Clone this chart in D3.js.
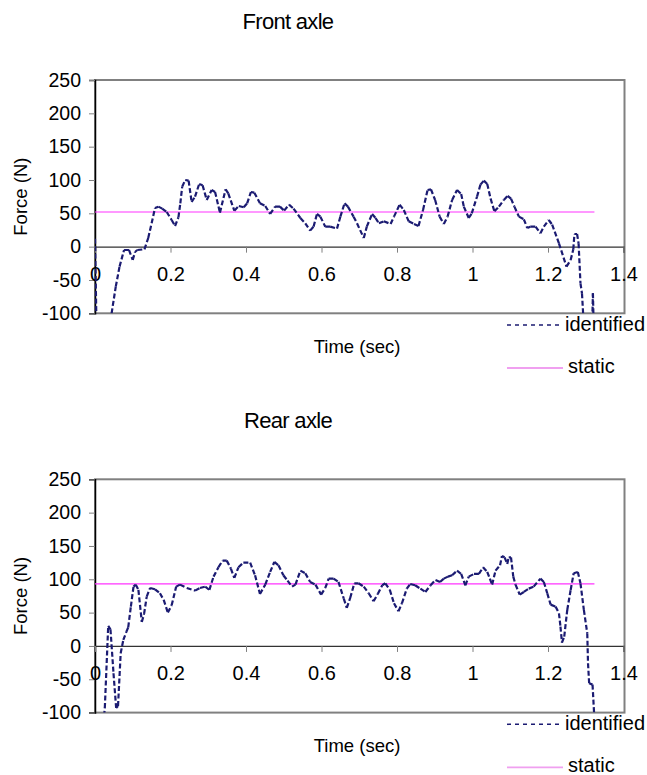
<html>
<head>
  <meta charset="utf-8">
  <script src="https://cdn.jsdelivr.net/npm/d3@7"></script>
  <style>
    body { margin: 0; background: #fff; }
    text { font-family: "Liberation Sans", Arial, sans-serif; fill: #000; }
  </style>
</head>
<body>
<svg id="chart" width="647" height="775"></svg>
<script>
// x ticks and y ticks shared by both panels
var timeTicks = [0, 0.2, 0.4, 0.6, 0.8, 1, 1.2, 1.4]
var forceTicks = [-100, -50, 0, 50, 100, 150, 200, 250]

// front axle, identified force
var frontTime = [0.000, 0.004, 0.036, 0.044, 0.055, 0.065, 0.077, 0.090, 0.100, 0.106, 0.112, 0.131, 0.141, 0.150, 0.159,
  0.168, 0.178, 0.190, 0.203, 0.212, 0.221, 0.226, 0.231, 0.239, 0.248, 0.256, 0.265, 0.276, 0.285, 0.296,
  0.309, 0.318, 0.331, 0.346, 0.353, 0.369, 0.381, 0.394, 0.403, 0.413, 0.422, 0.437, 0.451, 0.464, 0.477,
  0.490, 0.501, 0.514, 0.526, 0.544, 0.557, 0.570, 0.579, 0.588, 0.597, 0.610, 0.623, 0.641, 0.650, 0.661,
  0.670, 0.685, 0.694, 0.712, 0.720, 0.734, 0.743, 0.752, 0.765, 0.783, 0.792, 0.807, 0.818, 0.831, 0.845,
  0.857, 0.869, 0.881, 0.890, 0.901, 0.913, 0.924, 0.934, 0.946, 0.959, 0.970, 0.977, 0.990, 0.998, 1.012,
  1.021, 1.030, 1.039, 1.048, 1.058, 1.070, 1.083, 1.093, 1.102, 1.111, 1.123, 1.136, 1.145, 1.153, 1.167,
  1.180, 1.189, 1.202, 1.211, 1.229, 1.249, 1.260, 1.267, 1.270, 1.277, 1.281, 1.286, 1.290, 1.295, 1.317,
  1.319, 1.321]
var frontForce = [12, -120, -120, -100, -60, -30, -5, -5, -20, -8, -5, -4, 13, 35, 58,
  60, 57, 52, 40, 31, 44, 65, 90, 100, 99, 67, 75, 94, 92, 70,
  85, 82, 51, 86, 80, 54, 61, 59, 65, 82, 81, 65, 61, 49, 60,
  60, 54, 63, 57, 43, 35, 24, 30, 49, 45, 30, 30, 27, 45, 65,
  60, 45, 35, 13, 30, 49, 43, 35, 38, 34, 45, 63, 55, 38, 34,
  31, 55, 85, 86, 70, 45, 34, 45, 70, 85, 79, 60, 43, 50, 75,
  93, 99, 94, 72, 53, 60, 70, 76, 72, 60, 45, 41, 28, 30, 30,
  20, 30, 40, 33, 5, -30, -20, -4, 19, 19, 5, -55, -70, -120, -120,
  -70, -120]
var frontStatic = 52

// rear axle, identified force
var rearTime = [0.024, 0.026, 0.035, 0.041, 0.049, 0.056, 0.061, 0.068, 0.075, 0.083, 0.088, 0.095, 0.102, 0.108, 0.115,
  0.124, 0.130, 0.137, 0.146, 0.159, 0.172, 0.182, 0.193, 0.203, 0.215, 0.225, 0.243, 0.265, 0.278, 0.292,
  0.303, 0.314, 0.327, 0.338, 0.349, 0.360, 0.369, 0.380, 0.393, 0.411, 0.424, 0.437, 0.451, 0.464, 0.475,
  0.486, 0.499, 0.510, 0.522, 0.531, 0.544, 0.557, 0.570, 0.584, 0.599, 0.610, 0.619, 0.632, 0.645, 0.659,
  0.667, 0.676, 0.687, 0.698, 0.712, 0.725, 0.738, 0.749, 0.761, 0.769, 0.781, 0.792, 0.804, 0.813, 0.826,
  0.835, 0.848, 0.862, 0.875, 0.889, 0.902, 0.914, 0.924, 0.935, 0.946, 0.959, 0.970, 0.981, 0.990, 1.004,
  1.017, 1.028, 1.039, 1.046, 1.052, 1.061, 1.073, 1.078, 1.085, 1.092, 1.096, 1.102, 1.108, 1.114, 1.125,
  1.136, 1.149, 1.162, 1.180, 1.189, 1.198, 1.207, 1.220, 1.229, 1.233, 1.237, 1.243, 1.251, 1.260, 1.268,
  1.279, 1.286, 1.295, 1.304, 1.306, 1.309, 1.318, 1.322, 1.325]
var rearForce = [-105, -93, 30, 25, -41, -93, -90, -11, 9, 21, 28, 59, 89, 92, 84,
  36, 48, 74, 87, 85, 79, 69, 50, 61, 89, 92, 87, 83, 87, 89,
  84, 104, 118, 128, 128, 116, 102, 118, 125, 125, 106, 78, 92, 111, 126,
  121, 106, 98, 89, 92, 113, 109, 96, 92, 77, 87, 101, 101, 96, 71,
  57, 72, 94, 94, 89, 79, 67, 78, 91, 94, 84, 64, 52, 64, 86,
  93, 91, 86, 81, 91, 99, 96, 101, 104, 106, 113, 108, 91, 104, 108,
  108, 118, 111, 101, 92, 113, 121, 135, 133, 123, 133, 133, 104, 92, 77,
  81, 86, 89, 101, 96, 79, 62, 59, 49, 29, 5, 14, 54, 84, 109,
  111, 94, 54, 19, -26, -56, -58, -100, -110]
var rearStatic = 93
var staticSpan = [0, 1.323]

var svg = d3.select('#chart')
var lineColor = '#1b1b72'
var staticColor = '#ff33ff'
var fontFamily = '"Liberation Sans", Arial, sans-serif'

function drawPanel (top, title, clipId, times, forces, staticValue) {
  var g = svg.append('g').attr('transform', 'translate(0,' + top + ')')
  var x = d3.scaleLinear().domain([0, 1.4]).range([95, 623.5])
  var y = d3.scaleLinear().domain([-100, 250]).range([233.3, 0])

  g.append('text')
    .attr('x', 288).attr('y', -51)
    .attr('text-anchor', 'middle')
    .attr('font-size', 22).attr('letter-spacing', -0.7)
    .text(title)

  // plot border
  g.append('rect')
    .attr('x', x(0)).attr('y', y(250))
    .attr('width', 624.5 - x(0)).attr('height', y(-100) - y(250))
    .attr('fill', 'none').attr('stroke', '#808080').attr('stroke-width', 2)

  // y axis
  var yAxis = g.append('g')
    .attr('transform', 'translate(' + x(0) + ',0)')
    .call(d3.axisLeft(y).tickValues(forceTicks).tickSize(6).tickPadding(8).tickFormat(function (d) { return String(d) }))
  yAxis.select('.domain').attr('stroke', '#000').attr('stroke-width', 1.5)
  yAxis.selectAll('.tick line').attr('stroke', '#808080')
  yAxis.selectAll('text').attr('font-size', 19.5).attr('font-family', fontFamily)

  // x axis crossing at zero
  var xAxis = g.append('g')
    .attr('transform', 'translate(0,' + y(0) + ')')
    .call(d3.axisBottom(x).tickValues(timeTicks).tickSize(6).tickPadding(14).tickFormat(function (d) { return String(+d.toFixed(1)) }))
  xAxis.select('.domain').attr('stroke', '#333').attr('stroke-width', 1.3)
  xAxis.selectAll('.tick line').attr('stroke', '#808080')
  xAxis.selectAll('text').attr('font-size', 20).attr('font-family', fontFamily)

  g.append('text')
    .attr('x', 357).attr('y', 273)
    .attr('text-anchor', 'middle').attr('font-size', 18.5)
    .text('Time (sec)')
  g.append('text')
    .attr('transform', 'translate(27,' + y(75) + ') rotate(-90)')
    .attr('text-anchor', 'middle').attr('font-size', 18.5)
    .text('Force (N)')

  g.append('clipPath').attr('id', clipId)
    .append('rect')
    .attr('x', x(0)).attr('y', y(250))
    .attr('width', x(1.4) - x(0)).attr('height', y(-100) - y(250))

  // static load
  g.append('path')
    .datum(staticSpan.map(function (t) { return [t, staticValue] }))
    .attr('d', d3.line().x(function (d) { return x(d[0]) }).y(function (d) { return y(d[1]) }))
    .attr('stroke', staticColor).attr('stroke-width', 1.2).attr('fill', 'none')

  // identified force, dash pattern restarts on every segment as in the original
  var pts = times.map(function (t, i) { return [t, forces[i]] })
  var seg = d3.line().x(function (d) { return x(d[0]) }).y(function (d) { return y(d[1]) })
  g.append('g').attr('clip-path', 'url(#' + clipId + ')')
    .selectAll('path').data(d3.pairs(pts)).enter().append('path')
    .attr('d', seg)
    .attr('stroke', lineColor).attr('stroke-width', 2.2)
    .attr('stroke-dasharray', '5,2.5').attr('fill', 'none')

  // legend
  var lg = g.append('g')
  lg.append('line').attr('x1', 507).attr('x2', 563).attr('y1', 245).attr('y2', 245)
    .attr('stroke', lineColor).attr('stroke-width', 1.5).attr('stroke-dasharray', '4,4')
  lg.append('text').attr('x', 565).attr('y', 251).attr('font-size', 20).text('identified')
  lg.append('line').attr('x1', 507).attr('x2', 563).attr('y1', 288).attr('y2', 288)
    .attr('stroke', '#f0a0f0').attr('stroke-width', 1.8)
  lg.append('text').attr('x', 568).attr('y', 293).attr('font-size', 20).text('static')
}

drawPanel(80, 'Front axle', 'clipFront', frontTime, frontForce, frontStatic)
drawPanel(479.3, 'Rear axle', 'clipRear', rearTime, rearForce, rearStatic)
</script>
</body>
</html>
